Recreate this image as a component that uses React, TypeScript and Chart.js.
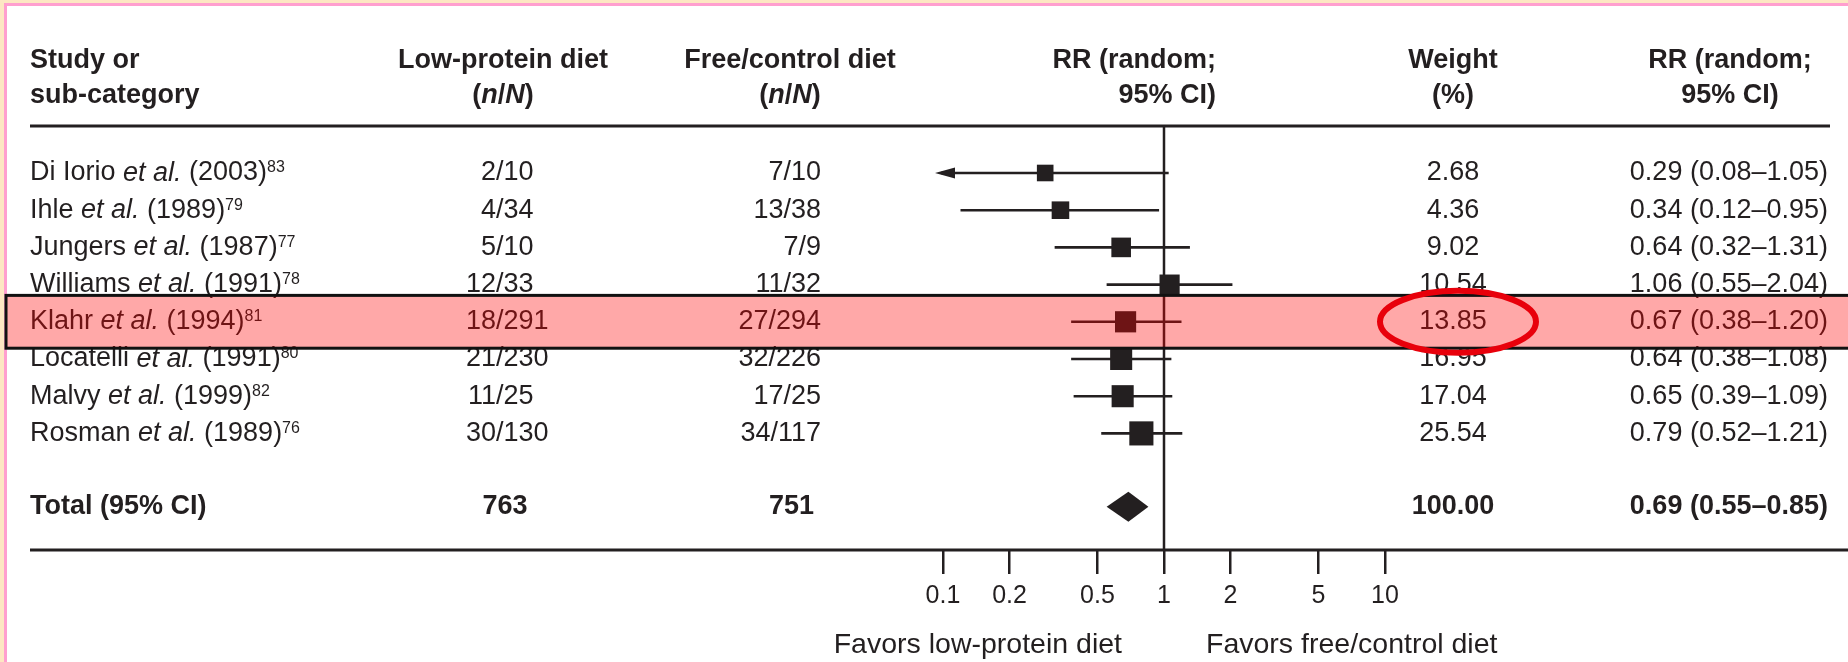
import React, { useEffect, useRef } from 'react';
import { Chart, registerables } from 'chart.js';

Chart.register(...registerables);

// ---- study data ----
const studyAuthors = ['Di Iorio', 'Ihle', 'Jungers', 'Williams', 'Klahr', 'Locatelli', 'Malvy', 'Rosman'];
const studyYears = ['2003', '1989', '1987', '1991', '1994', '1991', '1999', '1989'];
const studyRefs = ['83', '79', '77', '78', '81', '80', '82', '76'];
const lowEvents = [2, 4, 5, 12, 18, 21, 11, 30];
const lowTotals = [10, 34, 10, 33, 291, 230, 25, 130];
const ctrlEvents = [7, 13, 7, 11, 27, 32, 17, 34];
const ctrlTotals = [10, 38, 9, 32, 294, 226, 25, 117];
const weights = [2.68, 4.36, 9.02, 10.54, 13.85, 16.95, 17.04, 25.54];
const rrValues = [0.29, 0.34, 0.64, 1.06, 0.67, 0.64, 0.65, 0.79];
const ciLower = [0.08, 0.12, 0.32, 0.55, 0.38, 0.38, 0.39, 0.52];
const ciUpper = [1.05, 0.95, 1.31, 2.04, 1.2, 1.08, 1.09, 1.21];

const totalLow = 763;
const totalCtrl = 751;
const totalWeight = 100.0;
const totalRR = 0.69;
const totalLower = 0.55;
const totalUpper = 0.85;

const axisTicks = [0.1, 0.2, 0.5, 1, 2, 5, 10];
const highlightedStudy = 4;

// ---- layout ----
const W = 1848;
const H = 662;
const FAMILY = '"Liberation Sans", Arial, Helvetica, sans-serif';
const INK = '#231f20';
const FS = 27;
const REG = `${FS}px ${FAMILY}`;
const ITAL = `italic ${FS}px ${FAMILY}`;
const BOLD = `bold ${FS}px ${FAMILY}`;
const BOLD_ITAL = `italic bold ${FS}px ${FAMILY}`;
const SUP = `16px ${FAMILY}`;

const TOTAL_POS = studyAuthors.length + 0.97; // total row sits below a gap
const Y_MIN = -1.263;
const Y_MAX = 10.134;

const COL_STUDY = 30;
const COL_LOW_SLASH = 496;
const COL_LOW_HEAD = 503;
const COL_LOW_TOTAL = 505;
const COL_CTRL_RIGHT = 821;
const COL_CTRL_HEAD = 790;
const COL_RR_HEAD_RIGHT = 1216;
const COL_WEIGHT = 1453;
const COL_CI_RIGHT = 1828;
const COL_CI_HEAD = 1730;
const HEAD_Y1 = 61;
const HEAD_Y2 = 96;

type Part = { t: string; font: string; dy?: number };

function drawParts(ctx: CanvasRenderingContext2D, parts: Part[], x: number, y: number, align: 'left' | 'right' | 'center') {
  const widths = parts.map((p) => {
    ctx.font = p.font;
    return ctx.measureText(p.t).width;
  });
  const total = widths.reduce((a, b) => a + b, 0);
  let cx = align === 'left' ? x : align === 'right' ? x - total : x - total / 2;
  ctx.textAlign = 'left';
  parts.forEach((p, i) => {
    ctx.font = p.font;
    ctx.fillText(p.t, cx, y + (p.dy || 0));
    cx += widths[i];
  });
}

function squareSide(w: number) {
  return 13 + 2.2 * Math.sqrt(w);
}

const fmt = (v: number) => v.toFixed(2);
const ciText = (r: number, lo: number, hi: number) => `${fmt(r)} (${fmt(lo)}\u2013${fmt(hi)})`;

function line(ctx: CanvasRenderingContext2D, x1: number, y1: number, x2: number, y2: number) {
  ctx.beginPath();
  ctx.moveTo(x1, y1);
  ctx.lineTo(x2, y2);
  ctx.stroke();
}

const forestPlugin = {
  id: 'forestTable',
  beforeDraw(chart: any) {
    const { ctx } = chart;
    ctx.save();
    ctx.fillStyle = '#ffffff';
    ctx.fillRect(0, 0, W, H);
    // page frame
    ctx.fillStyle = '#fde7c3';
    ctx.fillRect(0, 0, W, 3);
    ctx.fillRect(0, 0, 4, H);
    ctx.fillStyle = '#ff9fcf';
    ctx.fillRect(4, 3, W - 4, 3);
    ctx.fillRect(4, 3, 3, H - 3);
    ctx.restore();
  },
  beforeDatasetsDraw(chart: any) {
    const { ctx, chartArea, scales } = chart;
    const xs = scales.x;
    const ys = scales.y;
    ctx.save();
    ctx.strokeStyle = INK;
    ctx.fillStyle = INK;
    ctx.lineWidth = 3;
    line(ctx, COL_STUDY, chartArea.top, 1830, chartArea.top);
    line(ctx, COL_STUDY, chartArea.bottom, W, chartArea.bottom);

    // line of no effect
    const x1 = xs.getPixelForValue(1);
    ctx.lineWidth = 2.5;
    line(ctx, x1, chartArea.top, x1, chartArea.bottom);

    ctx.textBaseline = 'middle';
    // headers
    drawParts(ctx, [{ t: 'Study or', font: BOLD }], COL_STUDY, HEAD_Y1, 'left');
    drawParts(ctx, [{ t: 'sub-category', font: BOLD }], COL_STUDY, HEAD_Y2, 'left');
    drawParts(ctx, [{ t: 'Low-protein diet', font: BOLD }], COL_LOW_HEAD, HEAD_Y1, 'center');
    const nN: Part[] = [
      { t: '(', font: BOLD },
      { t: 'n', font: BOLD_ITAL },
      { t: '/', font: BOLD },
      { t: 'N', font: BOLD_ITAL },
      { t: ')', font: BOLD },
    ];
    drawParts(ctx, nN, COL_LOW_HEAD, HEAD_Y2, 'center');
    drawParts(ctx, [{ t: 'Free/control diet', font: BOLD }], COL_CTRL_HEAD, HEAD_Y1, 'center');
    drawParts(ctx, nN, COL_CTRL_HEAD, HEAD_Y2, 'center');
    drawParts(ctx, [{ t: 'RR (random;', font: BOLD }], COL_RR_HEAD_RIGHT, HEAD_Y1, 'right');
    drawParts(ctx, [{ t: '95% CI)', font: BOLD }], COL_RR_HEAD_RIGHT, HEAD_Y2, 'right');
    drawParts(ctx, [{ t: 'Weight', font: BOLD }], COL_WEIGHT, HEAD_Y1, 'center');
    drawParts(ctx, [{ t: '(%)', font: BOLD }], COL_WEIGHT, HEAD_Y2, 'center');
    drawParts(ctx, [{ t: 'RR (random;', font: BOLD }], COL_CI_HEAD, HEAD_Y1, 'center');
    drawParts(ctx, [{ t: '95% CI)', font: BOLD }], COL_CI_HEAD, HEAD_Y2, 'center');

    // study rows
    studyAuthors.forEach((name, i) => {
      const y = ys.getPixelForValue(i);
      drawParts(
        ctx,
        [
          { t: name + ' ', font: REG },
          { t: 'et al.', font: ITAL },
          { t: ` (${studyYears[i]})`, font: REG },
          { t: studyRefs[i], font: SUP, dy: -5 },
        ],
        COL_STUDY,
        y,
        'left'
      );
      drawParts(ctx, [{ t: String(lowEvents[i]), font: REG }], COL_LOW_SLASH, y, 'right');
      drawParts(ctx, [{ t: '/' + lowTotals[i], font: REG }], COL_LOW_SLASH, y, 'left');
      drawParts(ctx, [{ t: `${ctrlEvents[i]}/${ctrlTotals[i]}`, font: REG }], COL_CTRL_RIGHT, y, 'right');
      drawParts(ctx, [{ t: fmt(weights[i]), font: REG }], COL_WEIGHT, y, 'center');
      drawParts(ctx, [{ t: ciText(rrValues[i], ciLower[i], ciUpper[i]), font: REG }], COL_CI_RIGHT, y, 'right');
    });

    // total row
    const ty = ys.getPixelForValue(TOTAL_POS);
    drawParts(ctx, [{ t: 'Total (95% CI)', font: BOLD }], COL_STUDY, ty, 'left');
    drawParts(ctx, [{ t: String(totalLow), font: BOLD }], COL_LOW_TOTAL, ty, 'center');
    drawParts(ctx, [{ t: String(totalCtrl), font: BOLD }], COL_CTRL_RIGHT - 7, ty, 'right');
    drawParts(ctx, [{ t: totalWeight.toFixed(2), font: BOLD }], COL_WEIGHT, ty, 'center');
    drawParts(ctx, [{ t: ciText(totalRR, totalLower, totalUpper), font: BOLD }], COL_CI_RIGHT, ty, 'right');

    // confidence intervals
    ctx.lineWidth = 2.6;
    const minPx = xs.getPixelForValue(xs.min);
    const maxPx = xs.getPixelForValue(xs.max);
    rrValues.forEach((_, i) => {
      const y = ys.getPixelForValue(i);
      const lo = ciLower[i];
      const hi = ciUpper[i];
      const clippedLeft = lo < xs.min;
      const clippedRight = hi > xs.max;
      const a = clippedLeft ? minPx - 8 : xs.getPixelForValue(lo);
      const b = clippedRight ? maxPx + 8 : xs.getPixelForValue(hi);
      line(ctx, clippedLeft ? a + 6 : a, y, clippedRight ? b - 6 : b, y);
      if (clippedLeft) {
        ctx.beginPath();
        ctx.moveTo(a, y);
        ctx.lineTo(a + 20, y - 5.5);
        ctx.lineTo(a + 20, y + 5.5);
        ctx.closePath();
        ctx.fill();
      }
      if (clippedRight) {
        ctx.beginPath();
        ctx.moveTo(b, y);
        ctx.lineTo(b - 20, y - 5.5);
        ctx.lineTo(b - 20, y + 5.5);
        ctx.closePath();
        ctx.fill();
      }
    });

    // pooled estimate diamond
    const dl = xs.getPixelForValue(totalLower);
    const dc = xs.getPixelForValue(totalRR);
    const dr = xs.getPixelForValue(totalUpper);
    ctx.beginPath();
    ctx.moveTo(dl, ty);
    ctx.lineTo(dc, ty - 15);
    ctx.lineTo(dr, ty);
    ctx.lineTo(dc, ty + 15);
    ctx.closePath();
    ctx.fill();

    // favours labels
    ctx.font = `28.5px ${FAMILY}`;
    ctx.textAlign = 'right';
    ctx.fillText('Favors low-protein diet', x1 - 42, 645);
    ctx.textAlign = 'left';
    ctx.fillText('Favors free/control diet', x1 + 42, 645);
    ctx.restore();
  },
  afterDraw(chart: any) {
    const { ctx, scales } = chart;
    const ys = scales.y;
    const top = ys.getPixelForValue(highlightedStudy - 0.71);
    const bottom = ys.getPixelForValue(highlightedStudy + 0.71);
    const cy = ys.getPixelForValue(highlightedStudy);
    ctx.save();
    // translucent red highlight band
    ctx.fillStyle = 'rgba(255, 0, 0, 0.34)';
    ctx.fillRect(6, top, W, bottom - top);
    ctx.strokeStyle = '#111111';
    ctx.lineWidth = 3;
    ctx.strokeRect(6, top, W + 10, bottom - top);
    // circle around the weight of the highlighted study
    ctx.strokeStyle = '#e8000b';
    ctx.lineWidth = 6;
    ctx.beginPath();
    ctx.ellipse(COL_WEIGHT + 5, cy, 78, 31, 0, 0, Math.PI * 2);
    ctx.stroke();
    ctx.restore();
  },
};

export default function App() {
  const canvasRef = useRef<HTMLCanvasElement | null>(null);

  useEffect(() => {
    document.body.style.margin = '0';
    const canvas = canvasRef.current;
    if (!canvas) return;
    const chart = new Chart(canvas, {
      type: 'scatter',
      data: {
        datasets: [
          {
            data: rrValues.map((v, i) => ({ x: v, y: i })),
            pointStyle: 'rect',
            pointRadius: (c: any) => squareSide(weights[c.dataIndex] ?? 0) / Math.SQRT2,
            backgroundColor: INK,
            borderWidth: 0,
          },
        ],
      },
      options: {
        animation: false,
        responsive: false,
        devicePixelRatio: 1,
        events: [],
        layout: { padding: { left: 943, right: 463, top: 126, bottom: 0 } },
        plugins: { legend: { display: false }, tooltip: { enabled: false } },
        scales: {
          x: {
            type: 'logarithmic',
            position: 'bottom',
            min: 0.1,
            max: 10,
            afterBuildTicks: (s: any) => {
              s.ticks = axisTicks.map((v) => ({ value: v }));
            },
            afterFit: (s: any) => {
              s.height = 112;
            },
            grid: { drawOnChartArea: false, drawTicks: true, tickLength: 24, color: INK, lineWidth: 2.5 },
            border: { display: false },
            ticks: {
              autoSkip: false,
              maxRotation: 0,
              padding: 7,
              color: INK,
              font: { family: FAMILY, size: 25 },
              callback: (v: any) => String(v),
            },
          },
          y: { type: 'linear', reverse: true, min: Y_MIN, max: Y_MAX, display: false },
        },
      },
      plugins: [forestPlugin],
    });
    return () => chart.destroy();
  }, []);

  return <canvas ref={canvasRef} width={W} height={H} style={{ display: 'block' }} />;
}
